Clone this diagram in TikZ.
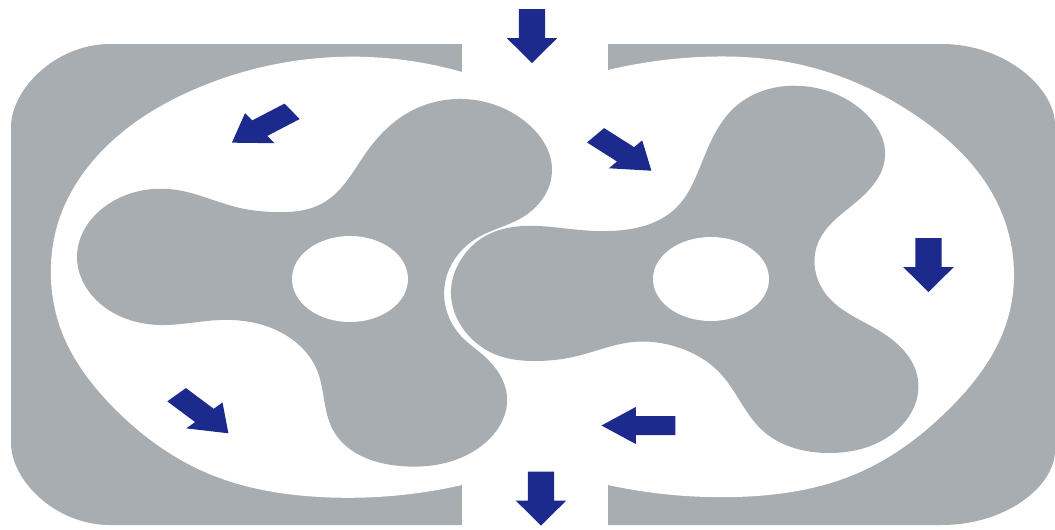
\documentclass[tikz,border=0pt]{standalone}
\usepackage{tikz}
\usetikzlibrary{hobby}
\definecolor{rotorgrey}{HTML}{A8ADB2}
\definecolor{flowblue}{HTML}{1B2A8C}
\tikzset{
  rotor/.style={fill=rotorgrey, draw=none, use Hobby shortcut, closed=true},
  pics/flowarrow/.style={code={
    \fill[flowblue] (-27,-9.5) -- (2,-9.5) -- (2,-18.5) -- (27,0) -- (2,18.5) -- (2,9.5) -- (-27,9.5) -- cycle;
  }}
}
\begin{document}
\begin{tikzpicture}[x=0.03cm,y=-0.03cm]
      \useasboundingbox (0,0) rectangle (1055,530);
      \fill[white] (0,0) rectangle (1055,530);
      % housing
      \fill[rotorgrey] (110,44) -- (942,44) .. controls (1005,44) and (1055,88) .. (1055,125)
        -- (1055,450) .. controls (1055,487) and (1005,525) .. (942,525)
        -- (110,525) .. controls (55,525) and (11,480) .. (11,443)
        -- (11,127) .. controls (11,90) and (55,44) .. (110,44) -- cycle;
      % cavity with the two ports
      \fill[white, use Hobby shortcut] (462,72) .. (320,58) .. (200,87) .. (110,143) .. (60,217)
        .. (51,280) .. (60,327) .. (113,407) .. (207,473) .. (320,497) .. (462,485);
      \fill[white, use Hobby shortcut] (608,485) .. (735,497) .. (858,473) .. (948,410) .. (1005,327)
        .. (1014,275) .. (992,193) .. (918,117) .. (802,65) .. (700,57) .. (608,70);
      \fill[white] (462,0) rectangle (608,530);
      % rotors
      \path[rotor] (457,99) .. (527,123) .. (552,170) .. (523,217) .. (477,238) .. (445,283)
        .. (461,336) .. (483,355) .. (507,397) .. (480,447) .. (400,466) .. (333,430)
        .. (317,370) .. (293,340) .. (220,320) .. (160,325) .. (90,293) .. (77,257) .. (110,203)
        .. (177,190) .. (240,208) .. (273,212) .. (323,203) .. (368,150) .. (413,110);
      \path[rotor] (523,226) .. (580,230) .. (610,231) .. (677,207) .. (700,167) .. (735,107)
        .. (802,86) .. (865,113) .. (885,157) .. (855,203) .. (818,243) .. (825,293) .. (878,330)
        .. (918,380) .. (888,437) .. (828,453) .. (762,430) .. (720,373) .. (677,347) .. (633,342)
        .. (573,357) .. (537,361) .. (490,352) .. (473,340) .. (451,290) .. (462,258) .. (482,238);
      \fill[white] (350,279) ellipse [x radius=58, y radius=43];
      \fill[white] (711,279) ellipse [x radius=58, y radius=42];
      % flow arrows
      \pic[xscale=1.37, rotate=-90] (inlet) at (532,36) {flowarrow};
      \pic[xscale=1.37, rotate=-90] (outlet) at (541,498.5) {flowarrow};
      \pic[xscale=1.37, rotate=-90] (rightflow) at (928.5,265) {flowarrow};
      \pic[xscale=1.37, rotate=180] (lowerflow) at (638.5,425.5) {flowarrow};
      \pic[xscale=1.37, rotate=215.5] (upperleft) at (262,127) {flowarrow};
      \pic[xscale=1.37, rotate=-41] (upperright) at (623.5,153) {flowarrow};
      \pic[xscale=1.37, rotate=-45.6] (lowerleft) at (202.5,414) {flowarrow};
    \end{tikzpicture}
\end{document}
